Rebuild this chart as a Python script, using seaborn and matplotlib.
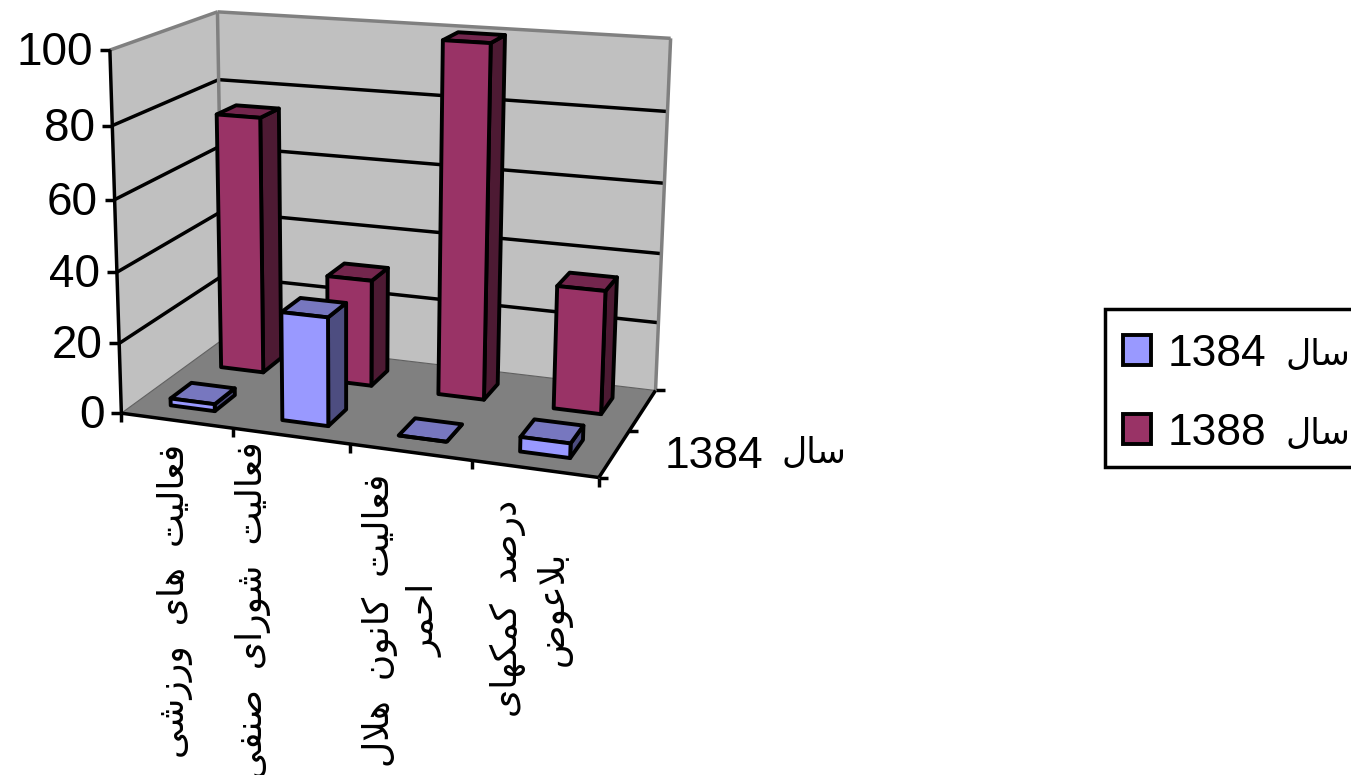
import matplotlib
matplotlib.use("Agg")
import matplotlib.pyplot as plt
import matplotlib.transforms as mtransforms
from matplotlib.patches import Polygon, Rectangle
import numpy as np
import pandas as pd
import seaborn as sns

# داده ها
categories = ["فعالیت های ورزشی", "فعالیت شورای صنفی", "فعالیت کانون هلال احمر", "درصد کمکهای بلاعوض"]
category_lines = [["فعالیت های ورزشی"], ["فعالیت شورای صنفی"],
                  ["فعالیت کانون هلال", "احمر"], ["درصد کمکهای", "بلاعوض"]]
series_names = ["1384", "1388"]
series_word = "سال"
values_1384 = [2, 30.5, 0, 4]
values_1388 = [75, 31, 100, 35]
y_ticks = [0, 20, 40, 60, 80, 100]

colors = ["#9999FF", "#993366"]
top_colors = ["#7777BF", "#73264D"]
side_colors = ["#4D4D80", "#4D1A33"]

# calibration of the fake 3d box: (x, depth, value) -> pixel
CAL_BOX = [(0, 0, 0), (0, 0, 100), (0, 1, 0), (0, 1, 100), (1, 1, 0), (1, 1, 100), (1, 0, 0),
           (0, 1, 80), (1, 1, 80), (0, 0, 80), (.25, 0, 0), (.5, 0, 0), (.75, 0, 0)]
CAL_PX = [(123, 412), (110, 49), (222, 338), (218, 12), (658, 388), (672, 38), (597, 475),
          (217, 82), (666, 113), (113, 123), (234, 430), (349, 447), (471, 463)]


def fit_camera(box, px):
    rows, rhs = [], []
    for (x, d, v), (u, w) in zip(box, px):
        v = v / 100
        rows.append([x, d, v, 1, 0, 0, 0, 0, -u * x, -u * d, -u * v])
        rhs.append(u)
        rows.append([0, 0, 0, 0, x, d, v, 1, -w * x, -w * d, -w * v])
        rhs.append(w)
    p = np.linalg.lstsq(np.array(rows, float), np.array(rhs, float), rcond=None)[0]
    return np.append(p, 1).reshape(3, 4)


CAM = fit_camera(CAL_BOX, CAL_PX)


def project(x, d, v):
    x, d, v = np.broadcast_arrays(np.asarray(x, float), np.asarray(d, float), np.asarray(v, float) / 100)
    pts = CAM @ np.stack([x, d, v, np.ones_like(x)])
    return (pts[:2] / pts[2]).T


class BarPlane(mtransforms.Transform):
    # 把 barplot 的矩形投影到某个深度的平面
    input_dims = 2
    output_dims = 2

    def __init__(self, plane):
        super().__init__()
        self.plane = plane

    def transform_non_affine(self, values):
        values = np.asarray(values, float)
        return project((values[:, 0] + .5) / len(categories), self.plane, values[:, 1])


# 波斯文 shaping, matplotlib 不会自己连字
FORMS = {
    "ف": "\uFED1\uFED2\uFED3\uFED4", "ع": "\uFEC9\uFECA\uFECB\uFECC", "ل": "\uFEDD\uFEDE\uFEDF\uFEE0",
    "ی": "\uFBFC\uFBFD\uFBFE\uFBFF", "ت": "\uFE95\uFE96\uFE97\uFE98", "ه": "\uFEE9\uFEEA\uFEEB\uFEEC",
    "ش": "\uFEB5\uFEB6\uFEB7\uFEB8", "س": "\uFEB1\uFEB2\uFEB3\uFEB4", "ص": "\uFEB9\uFEBA\uFEBB\uFEBC",
    "ن": "\uFEE5\uFEE6\uFEE7\uFEE8", "ق": "\uFED5\uFED6\uFED7\uFED8", "ک": "\uFB8E\uFB8F\uFB90\uFB91",
    "ح": "\uFEA1\uFEA2\uFEA3\uFEA4", "م": "\uFEE1\uFEE2\uFEE3\uFEE4", "ب": "\uFE8F\uFE90\uFE91\uFE92",
    "ض": "\uFEBD\uFEBE\uFEBF\uFEC0",
    "ا": "\uFE8D\uFE8E", "و": "\uFEED\uFEEE", "ر": "\uFEAD\uFEAE", "ز": "\uFEAF\uFEB0", "د": "\uFEA9\uFEAA",
}


def shape(word):
    out, prev_joins, i = [], False, 0
    while i < len(word):
        c = word[i]
        if c not in FORMS:
            out.append(c)
            prev_joins = False
            i += 1
            continue
        if word[i:i + 2] == "لا":
            out.append("\uFEFC" if prev_joins else "\uFEFB")
            prev_joins = False
            i += 2
            continue
        f = FORMS[c]
        next_ok = i + 1 < len(word) and word[i + 1] in FORMS
        if len(f) == 4 and next_ok:
            out.append(f[3] if prev_joins else f[2])
            prev_joins = True
        else:
            out.append(f[1] if prev_joins else f[0])
            prev_joins = False
        i += 1
    return "".join(reversed(out))


sns.set_style("white")
plt.rcParams["font.family"] = ["Liberation Sans", "DejaVu Sans"]
plt.rcParams["text.color"] = "black"

df = pd.DataFrame({
    "category": categories * 2,
    "series": [series_names[0]] * 4 + [series_names[1]] * 4,
    "value": values_1384 + values_1388,
})

fig = plt.figure(figsize=(13.51, 7.75), dpi=100)
ax = fig.add_axes([0, 0, 1, 1])
sns.barplot(data=df, x="category", y="value", hue="series", order=categories, palette=colors,
            dodge=False, width=.4, saturation=1, edgecolor="black", linewidth=2.8, errorbar=None, ax=ax)
ax.set_xlim(0, 1351)
ax.set_ylim(775, 0)
ax.axis("off")

# walls and floor
WALL, FLOOR, EDGE = "#C0C0C0", "#808080", "#808080"
def face(pts, color, z, **kw):
    ax.add_patch(Polygon(project(*np.array(pts).T), closed=True, facecolor=color, zorder=z, **kw))

face([(0, 0, 0), (0, 1, 0), (0, 1, 100), (0, 0, 100)], WALL, .5, edgecolor="none")
face([(0, 1, 0), (1, 1, 0), (1, 1, 100), (0, 1, 100)], WALL, .5, edgecolor="none")
face([(0, 0, 0), (1, 0, 0), (1, 1, 0), (0, 1, 0)], FLOOR, .6, edgecolor="none")


def line(a, b, color="black", lw=2.5, z=1):
    p = project(*np.array([a, b]).T)
    ax.plot(p[:, 0], p[:, 1], color=color, lw=lw, zorder=z, solid_capstyle="butt")


for v in y_ticks[1:-1]:
    line((0, 0, v), (0, 1, v))
    line((0, 1, v), (1, 1, v))
line((0, 0, 0), (0, 1, 0), "#606060", .8)
line((0, 1, 0), (1, 1, 0), "#606060", .8)
line((0, 0, 100), (0, 1, 100), EDGE)
line((0, 1, 100), (1, 1, 100), EDGE)
line((0, 1, 0), (0, 1, 100), EDGE)
line((1, 1, 0), (1, 1, 100), EDGE)

# bars: the front faces come from seaborn, side and top follow from the same rectangles
depth_ranges = [(.15, .35), (.65, .85)]
for s, container in enumerate(ax.containers):
    d0, d1 = depth_ranges[s]
    z = 5 - 2 * s
    for rect in container:
        x0 = (rect.get_x() + .5) / len(categories)
        x1 = (rect.get_x() + rect.get_width() + .5) / len(categories)
        h = rect.get_height()
        kw = dict(edgecolor="black", linewidth=2.8, joinstyle="round")
        face([(x1, d0, 0), (x1, d1, 0), (x1, d1, h), (x1, d0, h)], side_colors[s], z, **kw)
        face([(x0, d0, h), (x1, d0, h), (x1, d1, h), (x0, d1, h)], top_colors[s], z, **kw)
        rect.set_transform(BarPlane(d0) + ax.transData)
        rect.set_joinstyle("round")
        rect.set_zorder(z + .1)

# axes lines and ticks
line((0, 0, 0), (0, 0, 100), z=6)
line((0, 0, 0), (1, 0, 0), z=6)
line((1, 0, 0), (1, 1, 0), z=6)
for v in y_ticks:
    x, y = project(0, 0, v)
    ax.plot([x - 10, x], [y, y], color="black", lw=2.5, zorder=6, solid_capstyle="butt")
    ax.text(x - 17, y + 3, str(v), ha="right", va="center", fontsize=33)
for i in range(len(categories) + 1):
    x, y = project(i / len(categories), 0, 0)
    ax.plot([x, x], [y, y + 9], color="black", lw=2.5, zorder=6, solid_capstyle="butt")
for d in [0, .5, 1]:
    x, y = project(1, d, 0)
    ax.plot([x, x + 9], [y, y], color="black", lw=2.5, zorder=6, solid_capstyle="butt")

# labels
label_x = [175, 253, 403, 531]
label_y = [601, 610, 620, 608]
for i, lines in enumerate(category_lines):
    shaped = "\n".join("  ".join(shape(w) for w in reversed(l.split())) for l in lines)
    ax.text(label_x[i], label_y[i], shaped, rotation=90, ha="center", va="center", multialignment="center",
            fontsize=26, linespacing=1.35, clip_on=True)
ax.text(665, 468, series_names[0], ha="left", va="baseline", fontsize=32)
ax.text(782, 463, shape(series_word), ha="left", va="baseline", fontsize=25)

# legend box runs past the right edge of the picture
ax.add_patch(Rectangle((1105, 309), 300, 158, facecolor="white", edgecolor="black", linewidth=2.5, zorder=7))
sns.move_legend(ax, loc="upper left", bbox_to_anchor=(1105, 316), bbox_transform=ax.transData, title=None,
                frameon=False, borderaxespad=0, borderpad=.4,
                prop={"family": ["Liberation Sans", "DejaVu Sans"], "size": 32},
                handlelength=.64, handleheight=.64, handletextpad=.36, labelspacing=.85)
ax.get_legend().set_zorder(8)
for y in [365, 444]:
    ax.text(1285, y, shape(series_word), ha="left", va="baseline", fontsize=25, zorder=9)

fig.savefig("out.png", dpi=100)
